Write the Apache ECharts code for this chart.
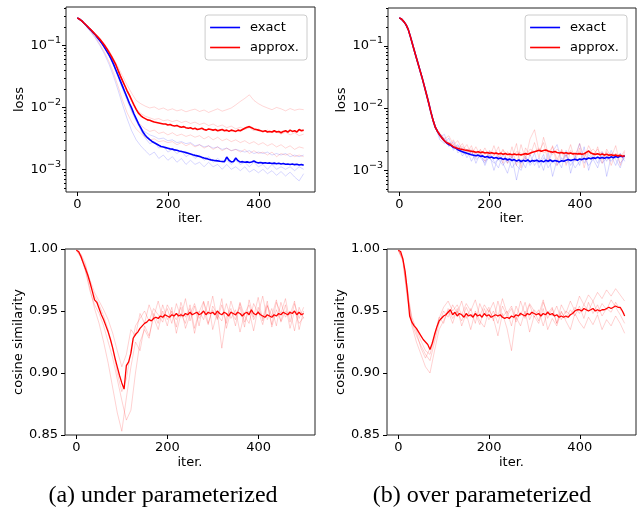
<!DOCTYPE html>
<html><head><meta charset="utf-8">
<script src="https://cdn.jsdelivr.net/npm/echarts@6/dist/echarts.min.js"></script>
<style>html,body{margin:0;padding:0;background:#fff}#c{width:642px;height:508px}</style>
</head><body><div id="c"></div>
<script>
// ---------- tick labels / categories ----------
const iterTicks = [0, 200, 400];
const lossTickExps = [-3, -2, -1];
const lossMinorTicks = [5e-4,6e-4,7e-4,8e-4,9e-4,2e-3,3e-3,4e-3,5e-3,6e-3,7e-3,8e-3,9e-3,2e-2,3e-2,4e-2,5e-2,6e-2,7e-2,8e-2,9e-2,2e-1,3e-1,4e-1];
const cosTicks = [0.85, 0.90, 0.95, 1.00];
const legendNames = ['exact', 'approx.'];
const captions = ['(a) under parameterized', '(b) over parameterized'];

// ---------- (a) under parameterized: loss (every 5 iters) ----------
const underExact = [0.280,0.266,0.251,0.229,0.211,0.193,0.178,0.162,0.148,0.133,
0.120,0.107,0.0933,0.0813,0.0708,0.0603,0.0501,0.0407,0.0331,0.0269,
0.0219,0.0178,0.0145,0.0117,0.0098,0.0079,0.0066,0.0055,0.0047,0.0040,
0.00355,0.00324,0.00302,0.00282,0.00269,0.00257,0.00245,0.00234,0.00229,0.00224,
0.00219,0.00214,0.00212,0.00206,0.00203,0.00198,0.00194,0.00190,0.00186,0.00182,
0.00177,0.00172,0.00168,0.00165,0.00161,0.00156,0.00152,0.00149,0.00145,0.00142,
0.00140,0.00138,0.00137,0.00135,0.00134,0.00133,0.00158,0.00140,0.00132,0.00134,
0.00152,0.00138,0.00131,0.00133,0.00130,0.00132,0.00129,0.00131,0.00136,0.00130,
0.00127,0.00129,0.00126,0.00128,0.00125,0.00127,0.00124,0.00126,0.00123,0.00125,
0.00122,0.00124,0.00121,0.00122,0.00120,0.00122,0.00119,0.00121,0.00117,0.00120,
0.00116];
const underApprox = [0.280,0.266,0.251,0.230,0.213,0.195,0.180,0.165,0.151,0.138,
0.126,0.1135,0.101,0.0891,0.0776,0.0676,0.0575,0.0490,0.0398,0.0324,
0.0269,0.0224,0.0186,0.0158,0.0132,0.0110,0.0093,0.0081,0.0074,0.0069,
0.0066,0.0063,0.0062,0.0060,0.0058,0.0057,0.0056,0.0055,0.0054,0.0054,
0.0052,0.0053,0.0051,0.0050,0.0051,0.0049,0.0048,0.0049,0.0047,0.0046,
0.0047,0.0045,0.0046,0.0044,0.0045,0.0046,0.0044,0.0043,0.0045,0.0044,
0.0043,0.0044,0.0042,0.0043,0.0044,0.0042,0.0043,0.0041,0.0043,0.0042,
0.0041,0.0043,0.0042,0.0044,0.0046,0.0048,0.0049,0.0047,0.0045,0.0044,
0.0043,0.0042,0.0041,0.0042,0.0040,0.0041,0.0040,0.0042,0.0040,0.0041,
0.0039,0.0041,0.0042,0.0040,0.0043,0.0041,0.0042,0.0040,0.0044,0.0042,
0.0043];
// individual runs (every 10 iters)
const underExactRun1 = [0.279,0.249,0.209,0.175,0.146,0.118,0.091,0.068,0.047,0.031,
0.020,0.013,0.0085,0.0060,0.0046,0.0040,0.0036,0.0034,0.0031,0.0032,
0.0029,0.0030,0.0027,0.0028,0.0026,0.0027,0.0024,0.0025,0.0023,0.0024,
0.0022,0.0023,0.0021,0.0022,0.0020,0.0021,0.0020,0.0019,0.0020,0.0018,
0.0019,0.0018,0.0019,0.0017,0.0018,0.0017,0.0018,0.0016,0.0017,0.0016,0.0017];
const underExactRun2 = [0.277,0.244,0.202,0.164,0.131,0.100,0.073,0.050,0.032,0.019,
0.011,0.0066,0.0042,0.0030,0.0024,0.0020,0.0017,0.0019,0.0015,0.0017,
0.0014,0.0016,0.0013,0.0015,0.0012,0.0014,0.0012,0.0013,0.0011,0.0013,
0.0011,0.0012,0.0010,0.0012,0.0010,0.0011,0.00095,0.0011,0.00090,0.0010,
0.00088,0.0010,0.00085,0.00095,0.00080,0.00092,0.00078,0.00090,0.00075,0.00065,0.00085];
const underExactRun3 = [0.280,0.250,0.210,0.177,0.148,0.120,0.093,0.070,0.049,0.032,
0.021,0.0140,0.0092,0.0062,0.0043,0.0032,0.0026,0.0028,0.0022,0.0024,
0.0019,0.0021,0.0018,0.0020,0.0016,0.0018,0.0015,0.0017,0.0014,0.0016,
0.0013,0.0015,0.0013,0.0014,0.0012,0.0014,0.0012,0.0013,0.0011,0.0013,
0.0011,0.0012,0.0010,0.0012,0.0010,0.0011,0.0010,0.0011,0.00095,0.0011,0.0010];
const underApproxRun1 = [0.280,0.250,0.212,0.180,0.152,0.128,0.104,0.082,0.062,0.045,
0.032,0.023,0.017,0.013,0.0115,0.0105,0.0098,0.0102,0.0093,0.0098,
0.0090,0.0095,0.0088,0.0092,0.0085,0.0090,0.0094,0.0086,0.0091,0.0083,
0.0089,0.0095,0.0087,0.0092,0.0098,0.0110,0.0125,0.0140,0.0160,0.0130,
0.0115,0.0105,0.0098,0.0092,0.0100,0.0095,0.0088,0.0096,0.0090,0.0094,0.0092];
const underApproxRun2 = [0.281,0.252,0.214,0.183,0.155,0.130,0.106,0.083,0.060,0.041,
0.027,0.018,0.0125,0.0095,0.0080,0.0072,0.0068,0.0064,0.0066,0.0061,
0.0063,0.0059,0.0062,0.0057,0.0060,0.0055,0.0058,0.0053,0.0056,0.0051,
0.0054,0.0049,0.0052,0.0047,0.0050,0.0045,0.0048,0.0044,0.0047,0.0042,
0.0045,0.0040,0.0043,0.0039,0.0041,0.0037,0.0040,0.0036,0.0039,0.0035,0.0037];
const underApproxRun3 = [0.279,0.249,0.210,0.176,0.146,0.118,0.092,0.070,0.050,0.034,
0.022,0.014,0.0090,0.0065,0.0052,0.0045,0.0041,0.0043,0.0038,0.0040,
0.0036,0.0039,0.0035,0.0037,0.0034,0.0036,0.0033,0.0035,0.0031,0.0034,
0.0030,0.0033,0.0029,0.0031,0.0028,0.0030,0.0027,0.0029,0.0026,0.0028,
0.0025,0.0027,0.0024,0.0026,0.0023,0.0025,0.0022,0.0024,0.0021,0.0023,0.0022];
const underApproxRun4 = [0.278,0.246,0.205,0.168,0.136,0.105,0.078,0.055,0.036,0.022,
0.013,0.0082,0.0058,0.0045,0.0038,0.0033,0.0030,0.0031,0.0028,0.0029,
0.0027,0.0028,0.0025,0.0027,0.0024,0.0026,0.0023,0.0025,0.0022,0.0024,
0.0021,0.0023,0.0020,0.0022,0.0020,0.0021,0.0019,0.0021,0.0018,0.0020,
0.0018,0.0019,0.0017,0.0019,0.0016,0.0018,0.0017,0.0018,0.0016,0.0017,0.0016];

// ---------- (b) over parameterized: loss ----------
const overExact = [0.281,0.269,0.245,0.219,0.182,0.138,0.102,0.0759,0.0569,0.0427,
0.0320,0.0234,0.0170,0.0123,0.0087,0.0063,0.0049,0.0042,0.0037,0.0033,
0.0030,0.00275,0.0026,0.0025,0.00234,0.00229,0.00215,0.00206,0.0020,0.00194,
0.00188,0.00183,0.00178,0.00175,0.00172,0.00176,0.00168,0.00171,0.00163,0.00167,
0.00160,0.00164,0.00157,0.00161,0.00154,0.00158,0.00150,0.00155,0.00147,0.00152,
0.00144,0.00149,0.00141,0.00147,0.00139,0.00145,0.00140,0.00147,0.00138,0.00144,
0.00141,0.00146,0.00139,0.00143,0.00137,0.00145,0.00140,0.00147,0.00139,0.00144,
0.00141,0.00137,0.00143,0.00140,0.00146,0.00150,0.00144,0.00148,0.00151,0.00146,
0.00152,0.00149,0.00155,0.00151,0.00158,0.00154,0.00160,0.00156,0.00162,0.00157,
0.00161,0.00156,0.00162,0.00158,0.00165,0.00160,0.00167,0.00162,0.00170,0.00166,
0.00170];
const overApprox = [0.281,0.269,0.245,0.219,0.182,0.138,0.102,0.0759,0.0569,0.0427,
0.0320,0.0234,0.0170,0.0123,0.0087,0.0063,0.0049,0.0042,0.0037,0.0033,
0.0030,0.00278,0.0027,0.00255,0.0024,0.00232,0.00225,0.0022,0.00216,0.00212,
0.0021,0.00206,0.00203,0.00200,0.00196,0.00199,0.00193,0.00197,0.00190,0.00194,
0.00189,0.00192,0.00186,0.00190,0.00184,0.00188,0.00182,0.00186,0.00180,0.00184,
0.00179,0.00183,0.00178,0.00182,0.00177,0.00182,0.00186,0.00181,0.00189,0.00195,
0.00200,0.00205,0.00210,0.00203,0.00208,0.00212,0.00205,0.00200,0.00196,0.00201,
0.00194,0.00190,0.00194,0.00188,0.00192,0.00186,0.00190,0.00184,0.00187,0.00183,
0.00186,0.00182,0.00185,0.00195,0.00205,0.00190,0.00184,0.00181,0.00185,0.00179,
0.00183,0.00177,0.00181,0.00175,0.00179,0.00173,0.00177,0.00171,0.00175,0.00169,
0.00172];
const overExactRun1 = [0.281,0.245,0.182,0.102,0.0569,0.0320,0.0170,0.0086,0.0048,0.0034,
0.0038,0.0024,0.0029,0.0019,0.0023,0.0016,0.0021,0.0013,0.0019,0.0012,
0.0018,0.0010,0.0017,0.0013,0.0009,0.0016,0.0007,0.0015,0.0011,0.0018,
0.0012,0.0016,0.0010,0.0019,0.0008,0.0015,0.0011,0.0021,0.0009,0.0017,
0.0012,0.0024,0.0010,0.0018,0.0013,0.0020,0.0008,0.0017,0.0012,0.0019,0.0014];
const overExactRun2 = [0.281,0.245,0.182,0.102,0.0569,0.0320,0.0170,0.0087,0.0051,0.0031,
0.0027,0.0033,0.0021,0.0025,0.0017,0.0022,0.0014,0.0019,0.0016,0.0013,
0.0020,0.0014,0.0011,0.0018,0.0013,0.0017,0.0012,0.0010,0.0016,0.0013,
0.0019,0.0011,0.0016,0.0013,0.0020,0.0026,0.0014,0.0018,0.0012,0.0016,
0.0027,0.0013,0.0018,0.0015,0.0011,0.0019,0.0014,0.0021,0.0015,0.0011,0.0018];
const overExactRun3 = [0.281,0.245,0.182,0.102,0.0569,0.0320,0.0170,0.0088,0.0049,0.0036,
0.0030,0.0027,0.0023,0.0026,0.0019,0.0018,0.0020,0.0015,0.0017,0.0014,
0.0016,0.0013,0.0015,0.0012,0.0016,0.0011,0.0014,0.0013,0.0017,0.0012,
0.0015,0.0013,0.0018,0.0011,0.0014,0.0012,0.0016,0.0013,0.0015,0.0011,
0.0014,0.0016,0.0012,0.0015,0.0017,0.0013,0.0016,0.0014,0.0018,0.0013,0.0016];
const overApproxRun1 = [0.281,0.245,0.182,0.102,0.0569,0.0320,0.0170,0.0087,0.0050,0.0040,
0.0032,0.0036,0.0026,0.0030,0.0021,0.0026,0.0018,0.0024,0.0017,0.0023,
0.0016,0.0025,0.0015,0.0022,0.0013,0.0024,0.0012,0.0026,0.0015,0.0032,
0.0045,0.0020,0.0028,0.0014,0.0025,0.0012,0.0022,0.0016,0.0026,0.0014,
0.0023,0.0011,0.0021,0.0015,0.0024,0.0013,0.0022,0.0016,0.0025,0.0012,0.0020];
const overApproxRun2 = [0.281,0.245,0.182,0.102,0.0569,0.0320,0.0170,0.0088,0.0052,0.0036,
0.0029,0.0025,0.0031,0.0022,0.0027,0.0019,0.0025,0.0016,0.0022,0.0014,
0.0021,0.0017,0.0024,0.0013,0.0020,0.0016,0.0027,0.0011,0.0023,0.0017,
0.0028,0.0016,0.0034,0.0019,0.0024,0.0015,0.0021,0.0012,0.0020,0.0017,
0.0027,0.0016,0.0025,0.0018,0.0022,0.0015,0.0020,0.0012,0.0019,0.0016,0.0021];
const overApproxRun3 = [0.281,0.245,0.182,0.102,0.0569,0.0320,0.0170,0.0087,0.0051,0.0038,
0.0033,0.0028,0.0026,0.0023,0.0024,0.0021,0.0022,0.0019,0.0021,0.0018,
0.0020,0.0019,0.0017,0.0021,0.0018,0.0016,0.0020,0.0019,0.0017,0.0022,
0.0020,0.0023,0.0019,0.0021,0.0018,0.0022,0.0019,0.0017,0.0021,0.0018,
0.0020,0.0017,0.0019,0.0022,0.0018,0.0020,0.0016,0.0019,0.0017,0.0018,0.0016];

// ---------- cosine similarity ----------
const underCos = [0.999,0.998,0.994,0.989,0.984,0.979,0.973,0.966,0.959,0.957,
0.952,0.947,0.943,0.938,0.933,0.927,0.920,0.912,0.905,0.898,
0.892,0.887,0.906,0.909,0.916,0.928,0.931,0.933,0.936,0.938,
0.940,0.941,0.943,0.942,0.944,0.945,0.944,0.946,0.945,0.947,
0.946,0.945,0.947,0.946,0.948,0.946,0.947,0.946,0.948,0.947,
0.949,0.947,0.948,0.949,0.947,0.948,0.950,0.947,0.949,0.948,
0.949,0.947,0.950,0.948,0.947,0.949,0.948,0.946,0.949,0.948,
0.947,0.949,0.948,0.946,0.948,0.949,0.947,0.951,0.948,0.947,
0.949,0.947,0.946,0.945,0.947,0.946,0.945,0.947,0.946,0.948,
0.947,0.949,0.948,0.947,0.949,0.948,0.950,0.947,0.949,0.947,
0.948];
const underCosRun1 = [0.999,0.995,0.986,0.975,0.965,0.958,0.951,0.943,0.932,0.918,
0.905,0.915,0.935,0.930,0.948,0.940,0.955,0.945,0.958,0.944,
0.952,0.940,0.956,0.945,0.960,0.942,0.954,0.938,0.957,0.947,
0.962,0.943,0.955,0.940,0.958,0.946,0.953,0.937,0.959,0.945,
0.961,0.942,0.955,0.939,0.957,0.948,0.960,0.941,0.956,0.944,0.953];
const underCosRun2 = [0.999,0.993,0.983,0.968,0.952,0.940,0.925,0.908,0.888,0.868,
0.853,0.880,0.905,0.925,0.918,0.938,0.930,0.945,0.935,0.950,
0.938,0.953,0.932,0.948,0.940,0.955,0.936,0.950,0.943,0.958,
0.935,0.949,0.920,0.945,0.952,0.938,0.956,0.941,0.950,0.934,
0.953,0.944,0.958,0.937,0.951,0.942,0.955,0.936,0.950,0.940,0.945];
const underCosRun3 = [0.999,0.994,0.982,0.966,0.955,0.948,0.938,0.925,0.912,0.895,
0.878,0.862,0.870,0.900,0.925,0.935,0.928,0.948,0.940,0.955,
0.943,0.950,0.937,0.957,0.945,0.952,0.932,0.949,0.958,0.940,
0.951,0.944,0.960,0.936,0.950,0.943,0.957,0.946,0.940,0.956,
0.948,0.962,0.943,0.952,0.938,0.957,0.945,0.950,0.934,0.953,0.944];
const underCosRun4 = [0.999,0.996,0.988,0.972,0.962,0.955,0.946,0.935,0.920,0.900,
0.885,0.895,0.918,0.938,0.944,0.950,0.942,0.952,0.947,0.941,
0.955,0.948,0.943,0.953,0.936,0.947,0.956,0.944,0.950,0.939,
0.954,0.947,0.942,0.956,0.944,0.951,0.933,0.948,0.955,0.943,
0.950,0.939,0.954,0.946,0.959,0.941,0.950,0.947,0.958,0.935,0.950];

const overCos = [0.999,0.998,0.992,0.982,0.966,0.946,0.941,0.938,0.936,0.933,
0.930,0.927,0.925,0.923,0.919,0.924,0.931,0.937,0.942,0.944,
0.946,0.947,0.949,0.951,0.947,0.949,0.946,0.948,0.947,0.945,
0.948,0.946,0.947,0.945,0.948,0.946,0.947,0.945,0.948,0.946,
0.947,0.945,0.946,0.947,0.946,0.947,0.945,0.944,0.945,0.944,
0.946,0.945,0.947,0.946,0.948,0.947,0.946,0.948,0.947,0.949,
0.948,0.947,0.948,0.946,0.948,0.947,0.949,0.947,0.948,0.946,
0.947,0.945,0.946,0.945,0.946,0.945,0.947,0.948,0.950,0.951,
0.951,0.950,0.952,0.951,0.950,0.951,0.952,0.950,0.951,0.950,
0.951,0.951,0.952,0.953,0.952,0.953,0.954,0.953,0.953,0.950,
0.946];
const overCosRun1 = [0.999,0.990,0.960,0.940,0.930,0.922,0.915,0.910,0.925,0.940,
0.950,0.945,0.955,0.948,0.958,0.944,0.952,0.940,0.956,0.947,
0.953,0.942,0.958,0.945,0.950,0.938,0.954,0.946,0.957,0.943,
0.951,0.947,0.959,0.944,0.952,0.940,0.955,0.948,0.958,0.950,
0.962,0.955,0.963,0.958,0.965,0.960,0.967,0.962,0.968,0.963,0.958];
const overCosRun2 = [0.999,0.992,0.965,0.938,0.925,0.915,0.905,0.900,0.918,0.935,
0.942,0.950,0.940,0.952,0.938,0.948,0.935,0.950,0.942,0.937,
0.951,0.944,0.930,0.948,0.936,0.918,0.945,0.938,0.950,0.933,
0.946,0.940,0.952,0.935,0.944,0.938,0.950,0.942,0.935,0.948,
0.941,0.936,0.945,0.939,0.947,0.935,0.943,0.938,0.946,0.940,0.932];
const overCosRun3 = [0.999,0.991,0.962,0.945,0.935,0.926,0.918,0.915,0.928,0.944,
0.953,0.958,0.950,0.955,0.947,0.956,0.950,0.959,0.946,0.955,
0.949,0.957,0.945,0.960,0.948,0.954,0.943,0.958,0.947,0.956,
0.950,0.942,0.957,0.948,0.953,0.940,0.949,0.944,0.951,0.946,
0.954,0.944,0.957,0.948,0.955,0.946,0.952,0.949,0.957,0.951,0.948];
const overCosRun4 = [0.999,0.993,0.968,0.943,0.933,0.920,0.912,0.920,0.930,0.945,
0.940,0.952,0.944,0.950,0.942,0.953,0.945,0.948,0.939,0.952,
0.943,0.950,0.940,0.954,0.946,0.952,0.941,0.949,0.944,0.955,
0.945,0.951,0.938,0.950,0.946,0.954,0.943,0.950,0.947,0.953,
0.948,0.955,0.950,0.958,0.948,0.956,0.951,0.959,0.953,0.947,0.940];

// ---------- drawing ----------
const F = 'DejaVu Sans';
const BLUE = '#0000ff', RED = '#ff0000';
const LAST_ITER = 499;

function pts(arr) {
  const n = arr.length;
  return arr.map((v, i) => [i * LAST_ITER / (n - 1), v]);
}
function line(name, arr, xi, yi, color, width, opacity, z) {
  return {
    name, type: 'line', xAxisIndex: xi, yAxisIndex: yi, data: pts(arr),
    symbol: 'none', showSymbol: false, silent: true, z,
    lineStyle: { color, width, opacity }, itemStyle: { color },
    emphasis: { disabled: true }, animation: false
  };
}

const grids = [
  { left: 66, top: 7, width: 249, height: 185 },
  { left: 388, top: 8, width: 248, height: 184 },
  { left: 65, top: 249, width: 250, height: 186 },
  { left: 387, top: 249, width: 249, height: 186 }
].map(g => Object.assign(g, { show: true, borderColor: '#222', borderWidth: 1, backgroundColor: 'transparent' }));

const tickStyle = { color: '#000', width: 1 };
const noLine = { show: false, onZero: false };
const xAxis = grids.map((g, i) => ({
  gridIndex: i, type: 'value', min: -24.95, max: 523.95, position: 'bottom',
  axisLine: noLine, splitLine: { show: false },
  axisTick: { show: true, length: 4, lineStyle: tickStyle, customValues: iterTicks },
  axisLabel: { show: true, customValues: iterTicks, color: '#000', fontFamily: F, fontSize: 13, margin: 6 },
  name: 'iter.', nameLocation: 'middle', nameGap: i < 2 ? 19 : 21,
  nameTextStyle: { color: '#000', fontFamily: F, fontSize: 13 }
}));

function lossAxes(gi, lo, hi) {
  const a = Math.log10(lo), b = Math.log10(hi);
  return [
    { gridIndex: gi, type: 'log', logBase: 10, min: lo, max: hi, position: 'left',
      axisLine: noLine, axisTick: { show: false }, axisLabel: { show: false }, splitLine: { show: false } },
    { gridIndex: gi, type: 'value', min: a, max: b, position: 'left',
      axisLine: noLine, splitLine: { show: false },
      axisTick: { show: true, length: 4, lineStyle: tickStyle, customValues: lossTickExps },
      axisLabel: { show: true, customValues: lossTickExps, margin: 5,
        formatter: v => '{b|10}{s|\u2212' + Math.round(-v) + '}',
        rich: { b: { fontFamily: F, fontSize: 13, color: '#000', lineHeight: 20 },
                s: { fontFamily: F, fontSize: 9.5, color: '#000', lineHeight: 10, verticalAlign: 'top' } } },
      name: 'loss', nameLocation: 'middle', nameGap: 40,
      nameTextStyle: { color: '#000', fontFamily: F, fontSize: 13 } },
    { gridIndex: gi, type: 'value', min: a, max: b, position: 'left',
      axisLine: noLine, splitLine: { show: false },
      axisTick: { show: true, length: 2, lineStyle: tickStyle, customValues: lossMinorTicks.map(Math.log10) },
      axisLabel: { show: false } }
  ];
}
function cosAxis(gi) {
  return { gridIndex: gi, type: 'value', min: 0.85, max: 1.0, position: 'left',
    axisLine: noLine, splitLine: { show: false },
    axisTick: { show: true, length: 4, lineStyle: tickStyle, customValues: cosTicks },
    axisLabel: { show: true, customValues: cosTicks, margin: 7, color: '#000', fontFamily: F, fontSize: 13,
      formatter: v => v.toFixed(2) },
    name: 'cosine similarity', nameLocation: 'middle', nameGap: 37,
    nameTextStyle: { color: '#000', fontFamily: F, fontSize: 13 } };
}
const yAxis = [].concat(lossAxes(0, 4.3e-4, 0.42), lossAxes(1, 4.5e-4, 0.405), [cosAxis(2), cosAxis(3)]);
// y axis indices: panel0 log=0, panel1 log=3, panel2=6, panel3=7

const FA = 0.16;
const series = [];
[underExactRun1, underExactRun2, underExactRun3].forEach((r, k) => series.push(line('ue' + k, r, 0, 0, BLUE, 1, FA, 2)));
[underApproxRun1, underApproxRun2, underApproxRun3, underApproxRun4].forEach((r, k) => series.push(line('ua' + k, r, 0, 0, RED, 1, FA, 2)));
series.push(line('exact', underExact, 0, 0, BLUE, 1.6, 1, 3));
series.push(line('approx.', underApprox, 0, 0, RED, 1.6, 1, 3));

[overExactRun1, overExactRun2, overExactRun3].forEach((r, k) => series.push(line('oe' + k, r, 1, 3, BLUE, 1, FA, 2)));
[overApproxRun1, overApproxRun2, overApproxRun3].forEach((r, k) => series.push(line('oa' + k, r, 1, 3, RED, 1, FA, 2)));
series.push(line('exact', overExact, 1, 3, BLUE, 1.6, 1, 3));
series.push(line('approx.', overApprox, 1, 3, RED, 1.6, 1, 3));

[underCosRun1, underCosRun2, underCosRun3, underCosRun4].forEach((r, k) => series.push(line('uc' + k, r, 2, 6, RED, 1, 0.18, 2)));
series.push(line('ucos', underCos, 2, 6, RED, 1.3, 1, 3));
[overCosRun1, overCosRun2, overCosRun3, overCosRun4].forEach((r, k) => series.push(line('oc' + k, r, 3, 7, RED, 1, 0.18, 2)));
series.push(line('ocos', overCos, 3, 7, RED, 1.3, 1, 3));

function legendAt(right) {
  return { data: legendNames, orient: 'vertical', right, top: 15,
    icon: 'rect', itemWidth: 30, itemHeight: 1.6, itemGap: 5, padding: [5, 8, 5, 5],
    backgroundColor: 'rgba(255,255,255,0.8)', borderColor: '#cccccc', borderWidth: 1, borderRadius: 3,
    textStyle: { fontFamily: F, fontSize: 13, color: '#000', lineHeight: 15, padding: [0, 0, 0, 5] },
    selectedMode: false };
}

const chart = echarts.init(document.getElementById('c'), null, { renderer: 'canvas' });
chart.setOption({
  animation: false,
  backgroundColor: '#fff',
  grid: grids, xAxis, yAxis, series,
  legend: [legendAt(335), legendAt(15)],
  graphic: [
    { type: 'text', x: 163, y: 496, style: { text: captions[0], fontFamily: 'Liberation Serif', fontSize: 24, fill: '#000', align: 'center', verticalAlign: 'middle' } },
    { type: 'text', x: 482, y: 496, style: { text: captions[1], fontFamily: 'Liberation Serif', fontSize: 24, fill: '#000', align: 'center', verticalAlign: 'middle' } }
  ]
});
</script>
</body></html>
